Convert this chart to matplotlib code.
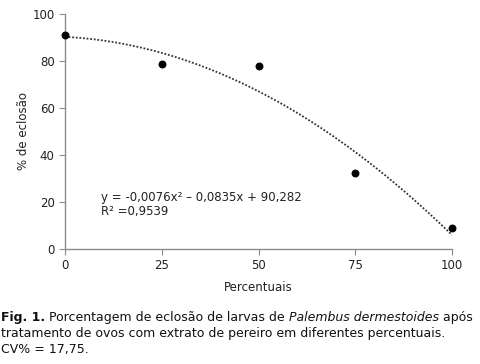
import numpy as np
import matplotlib
matplotlib.use("Agg")
import matplotlib.pyplot as plt

plt.rcParams['font.family'] = ['DejaVu Sans']

percentuais = [0, 25, 50, 75, 100]
eclosao = [91.0, 78.6, 77.8, 32.2, 8.9]
coef = [-0.0076, -0.0835, 90.282]
xticks = [0, 25, 50, 75, 100]
yticks = [0, 20, 40, 60, 80, 100]

fig = plt.figure(figsize=(4.8, 3.64), dpi=100)
ax = fig.add_axes([0.1354, 0.316, 0.8063, 0.6455])

xs = np.linspace(0, 100, 200)
ax.plot(xs, np.polyval(coef, xs), linestyle=(0, (1, 1.0)), color='#333333', lw=1.3)
ax.scatter(percentuais, eclosao, s=22, color='black', zorder=3, clip_on=False)

ax.set_xlim(0, 100)
ax.set_ylim(0, 100)
ax.set_xticks(xticks)
ax.set_yticks(yticks)
for s in ['top', 'right']:
    ax.spines[s].set_visible(False)
for s in ['left', 'bottom']:
    ax.spines[s].set_color('#8c8c8c')
    ax.spines[s].set_linewidth(1.0)
ax.tick_params(colors='#8c8c8c', labelcolor='#222222', length=4, labelsize=8.5)
ax.set_xlabel('Percentuais', fontsize=8.5, color='#222222', labelpad=6)
ax.set_ylabel('% de eclosão', fontsize=8.5, color='#222222', labelpad=2)

ax.text(9.3, 22, 'y = -0,0076x² – 0,0835x + 90,282', fontsize=8.5, va='center', color='#222222')
ax.text(9.3, 16, 'R² =0,9539', fontsize=8.5, va='center', color='#222222')

fs = 9.0
lines = [
    [('Fig. 1.', 'bold', 'normal'), (' Porcentagem de eclosão de larvas de ', 'normal', 'normal'),
     ('Palembus dermestoides', 'normal', 'italic'), (' após', 'normal', 'normal')],
    [('tratamento de ovos com extrato de pereiro em diferentes percentuais.', 'normal', 'normal')],
    [('CV% = 17,75.', 'normal', 'normal')],
]
ys = [316, 332, 348]
fig.canvas.draw()
renderer = fig.canvas.get_renderer()
for segs, ypx in zip(lines, ys):
    xpx = 1.0
    for txt, w, st in segs:
        t = fig.text(xpx / 480, 1 - ypx / 364, txt, fontsize=fs, fontweight=w, fontstyle=st,
                     va='center_baseline', ha='left', color='#111111')
        bb = t.get_window_extent(renderer=renderer)
        xpx += bb.width

fig.savefig('out.png', dpi=100)
